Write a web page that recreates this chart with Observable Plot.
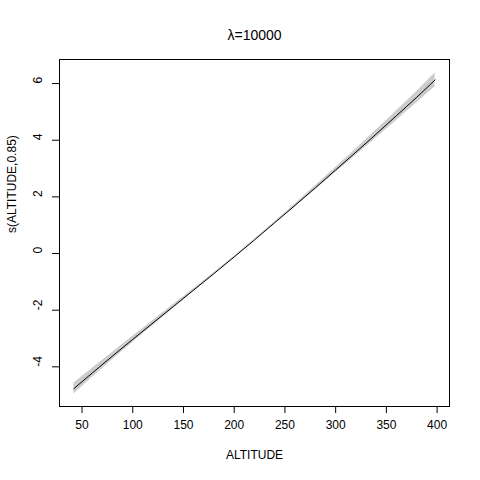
<!DOCTYPE html>
<html>
<head>
<meta charset="utf-8">
<script src="https://cdn.jsdelivr.net/npm/d3@7"></script>
<script src="https://cdn.jsdelivr.net/npm/@observablehq/plot@0.6"></script>
<style>
  html, body { margin: 0; padding: 0; background: #fff; }
  svg { font-family: "Liberation Sans", Arial, Helvetica, sans-serif; }
</style>
</head>
<body>
<div id="chart"></div>
<script>
const altitude = [42, 60, 80, 100, 120, 140, 160, 180, 200, 220, 240, 260, 280, 300, 320, 340, 360, 380, 398];
const smooth   = [-4.77, -4.22, -3.62, -3.03, -2.45, -1.87, -1.29, -0.71, -0.12, 0.48, 1.09, 1.70, 2.32, 2.95, 3.58, 4.22, 4.87, 5.52, 6.13];
const halfWidth = [0.19, 0.16, 0.13, 0.11, 0.09, 0.07, 0.05, 0.03, 0.02, 0.02, 0.03, 0.05, 0.07, 0.09, 0.11, 0.14, 0.17, 0.20, 0.24];
const xTicks = [50, 100, 150, 200, 250, 300, 350, 400];
const yTicks = [-4, -2, 0, 2, 4, 6];
const title = "λ=10000";
const xLabel = "ALTITUDE";
const yLabel = "s(ALTITUDE,0.85)";

const data = altitude.map((a, i) => ({x: a, y: smooth[i], lo: smooth[i] - halfWidth[i], hi: smooth[i] + halfWidth[i]}));

const chart = Plot.plot({
  width: 480,
  height: 480,
  marginLeft: 59,
  marginRight: 31,
  marginTop: 59,
  marginBottom: 74,
  style: {fontFamily: '"Liberation Sans", Arial, Helvetica, sans-serif', fontSize: "12px", color: "#000", background: "#fff"},
  x: {domain: [27.8, 412.2]},
  y: {domain: [-5.4, 6.85]},
  marks: [
    Plot.areaY(data, {x: "x", y1: "lo", y2: "hi", fill: "#cccccc", curve: "monotone-x"}),
    Plot.lineY(data, {x: "x", y: "y", stroke: "#000", strokeWidth: 1, curve: "monotone-x"}),
    Plot.frame({stroke: "#000", strokeWidth: 1}),
    Plot.axisX({ticks: xTicks, tickSize: 7, tickPadding: 7, fontSize: 12, label: null, tickFormat: d => String(d)}),
    Plot.axisY({ticks: yTicks, tickSize: 7, text: null, label: null}),
    Plot.text(yTicks, {y: d => d, frameAnchor: "left", dx: -21, rotate: -90, text: d => String(d), fontSize: 12, fill: "#000"}),
    Plot.text([title], {frameAnchor: "top", dy: -29, text: d => d, fontSize: 14, fill: "#000"}),
    Plot.text([xLabel], {frameAnchor: "bottom", dy: 52, text: d => d, fontSize: 12, fill: "#000"}),
    Plot.text([yLabel], {frameAnchor: "left", dx: -47, rotate: -90, text: d => d, fontSize: 12, fill: "#000"})
  ]
});
document.getElementById("chart").appendChild(chart);
</script>
</body>
</html>
